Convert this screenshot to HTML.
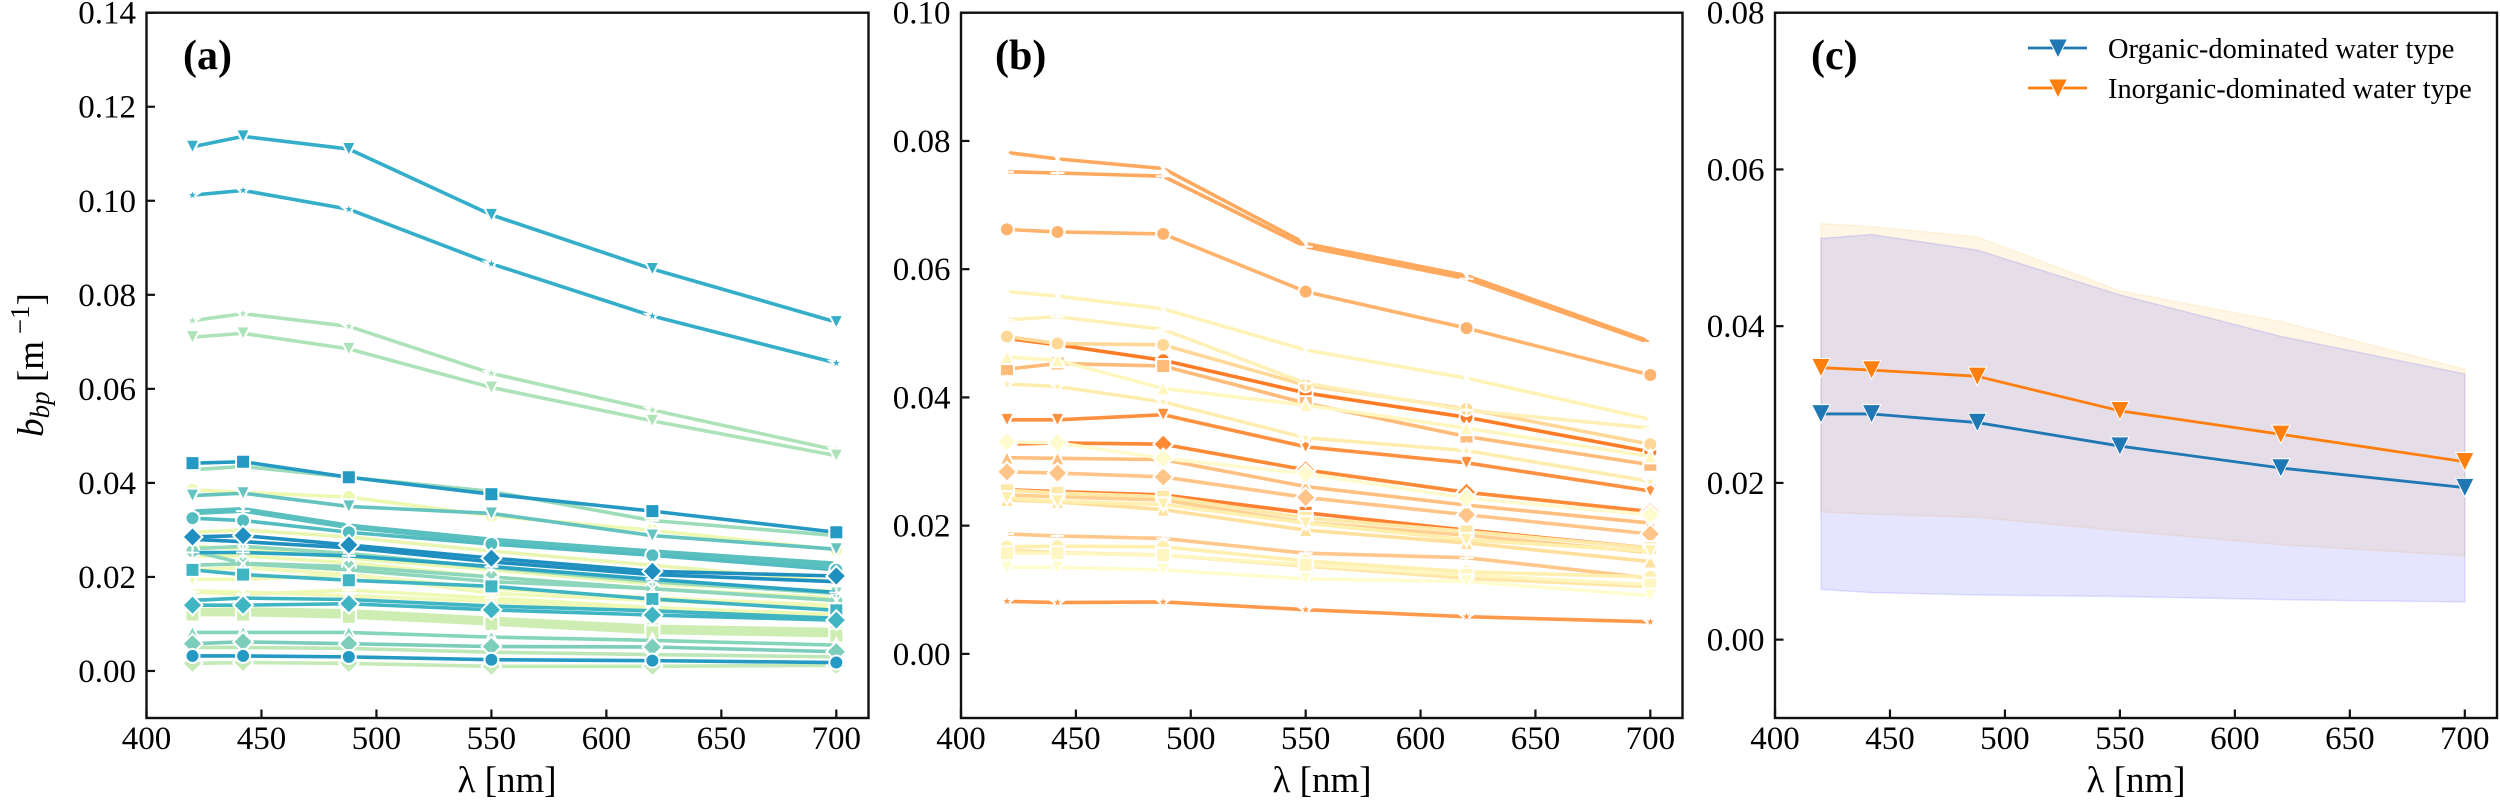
<!DOCTYPE html>
<html lang="en">
<head>
<meta charset="utf-8">
<title>Particulate backscattering spectra</title>
<style>
html,body{margin:0;padding:0;background:#fff;}
svg{display:block;font-family:"Liberation Serif",serif;}
</style>
</head>
<body>
<svg id="figure" xmlns="http://www.w3.org/2000/svg" width="2500" height="802" viewBox="0 0 2500 802">
<rect x="0" y="0" width="2500" height="802" fill="#fff"/>
<g id="layer-a"></g>
<g id="layer-b"></g>
<g id="layer-c"></g>
<text x="183" y="69" font-size="42" font-weight="bold">(a)</text>
<text x="995" y="69" font-size="42" font-weight="bold">(b)</text>
<text x="1811" y="69" font-size="42" font-weight="bold">(c)</text>
<text x="507" y="792" font-size="37" text-anchor="middle">λ [nm]</text>
<text x="1322" y="792" font-size="37" text-anchor="middle">λ [nm]</text>
<text x="2136" y="792" font-size="37" text-anchor="middle">λ [nm]</text>
<text transform="translate(43,365) rotate(-90)" font-size="37" text-anchor="middle"><tspan font-style="italic">b</tspan><tspan font-style="italic" font-size="27" dy="6">bp</tspan><tspan dy="-6"> [m</tspan><tspan font-size="27" dy="-14"> −1</tspan><tspan dy="14">]</tspan></text>
<g>
<g>
<line x1="2028" x2="2087" y1="48" y2="48" stroke="#1f77b4" stroke-width="2.8"/>
<polygon points="2048.5,39 2067.5,39 2058,58" fill="#1f77b4" stroke="#fff" stroke-width="1"/>
<text x="2108" y="58" font-size="28.4">Organic-dominated water type</text>
</g>
<g>
<line x1="2028" x2="2087" y1="88" y2="88" stroke="#ff7f0e" stroke-width="2.8"/>
<polygon points="2048.5,79 2067.5,79 2058,98" fill="#ff7f0e" stroke="#fff" stroke-width="1"/>
<text x="2108" y="98" font-size="28.4">Inorganic-dominated water type</text>
</g>
</g>
</svg>
<script>
const wavelengths = [420, 442, 488, 550, 620, 700];
const xTicks = [400, 450, 500, 550, 600, 650, 700];
const yTicksA = [0, 0.02, 0.04, 0.06, 0.08, 0.10, 0.12, 0.14];
const yTicksB = [0, 0.02, 0.04, 0.06, 0.08, 0.10];
const yTicksC = [0, 0.02, 0.04, 0.06, 0.08];

const valuesA = [
  [0.0385, 0.0380, 0.0370, 0.0330, 0.0299, 0.0258],
  [0.0295, 0.0300, 0.0285, 0.0255, 0.0225, 0.0190],
  [0.0265, 0.0260, 0.0240, 0.0215, 0.0185, 0.0170],
  [0.0245, 0.0245, 0.0230, 0.0200, 0.0175, 0.0155],
  [0.0215, 0.0220, 0.0205, 0.0175, 0.0155, 0.0140],
  [0.0195, 0.0195, 0.0205, 0.0165, 0.0150, 0.0135],
  [0.0170, 0.0168, 0.0160, 0.0148, 0.0130, 0.0115],
  [0.0168, 0.0163, 0.0172, 0.0155, 0.0135, 0.0120],
  [0.0130, 0.0132, 0.0128, 0.0112, 0.0095, 0.0088],
  [0.0125, 0.0126, 0.0122, 0.0106, 0.0089, 0.0082],
  [0.0120, 0.0120, 0.0115, 0.0100, 0.0082, 0.0075],
  [0.0016, 0.0018, 0.0016, 0.0010, 0.0010, 0.0012],
  [0.0050, 0.0050, 0.0048, 0.0040, 0.0035, 0.0030],
  [0.0745, 0.0760, 0.0733, 0.0633, 0.0555, 0.0470],
  [0.0710, 0.0718, 0.0685, 0.0603, 0.0532, 0.0458],
  [0.0428, 0.0435, 0.0412, 0.0382, 0.0320, 0.0288],
  [0.0260, 0.0265, 0.0250, 0.0220, 0.0190, 0.0165],
  [0.0255, 0.0229, 0.0222, 0.0200, 0.0175, 0.0150],
  [0.0225, 0.0228, 0.0215, 0.0190, 0.0175, 0.0150],
  [0.0082, 0.0082, 0.0082, 0.0072, 0.0065, 0.0055],
  [0.0058, 0.0062, 0.0058, 0.0052, 0.0051, 0.0041],
  [0.0373, 0.0378, 0.0350, 0.0335, 0.0288, 0.0259],
  [0.0340, 0.0345, 0.0310, 0.0280, 0.0255, 0.0229],
  [0.0335, 0.0340, 0.0305, 0.0275, 0.0250, 0.0222],
  [0.0325, 0.0320, 0.0295, 0.0270, 0.0246, 0.0215],
  [0.0150, 0.0155, 0.0152, 0.0138, 0.0128, 0.0112],
  [0.0215, 0.0205, 0.0193, 0.0180, 0.0153, 0.0129],
  [0.0140, 0.0140, 0.0143, 0.0130, 0.0119, 0.0108],
  [0.1115, 0.1137, 0.1110, 0.0970, 0.0855, 0.0742],
  [0.1012, 0.1022, 0.0982, 0.0866, 0.0755, 0.0655],
  [0.0252, 0.0252, 0.0245, 0.0222, 0.0195, 0.0167],
  [0.0442, 0.0445, 0.0412, 0.0376, 0.0340, 0.0295],
  [0.0032, 0.0032, 0.0030, 0.0024, 0.0022, 0.0018],
  [0.0280, 0.0275, 0.0262, 0.0232, 0.0205, 0.0190],
  [0.0285, 0.0288, 0.0268, 0.0240, 0.0212, 0.0202]
];
const markersA = ['o','x','v','x','+','v','x','+','s','s','s','D','*','*','v','+','v','o','x','^','D','v','x','+','o','x','s','D','v','*','+','s','o','x','D'];
const colorsA = ['#edf8b1','#e8f6b1','#e9f7b1','#edf8b1','#f1f9b8','#f1f9b8','#f1f9b8','#eff9b6','#cdedb3','#cdedb3','#cdedb3','#c5eab8','#bde7b7','#aee3b9','#aee3b9','#9cdcb9','#95d8ba','#8ed6bb','#8ed6bb','#85d5bb','#7ccdb9','#65c3bf','#5ac0bf','#5ac0bf','#52bcc0','#3fb4c3','#3fb4c3','#3fb4c3','#35afc9','#35afc9','#2ba3c3','#2399c3','#2399c3','#1f8fc0','#1f8fc0'];

const valuesB = [
  [0.0782, 0.0772, 0.0757, 0.0640, 0.0590, 0.0487],
  [0.0752, 0.0750, 0.0745, 0.0635, 0.0585, 0.0485],
  [0.0662, 0.0658, 0.0655, 0.0565, 0.0508, 0.0435],
  [0.0492, 0.0482, 0.0458, 0.0407, 0.0369, 0.0315],
  [0.0327, 0.0329, 0.0327, 0.0287, 0.0252, 0.0222],
  [0.0256, 0.0253, 0.0248, 0.0220, 0.0193, 0.0165],
  [0.0365, 0.0365, 0.0373, 0.0323, 0.0298, 0.0254],
  [0.0082, 0.0080, 0.0081, 0.0069, 0.0058, 0.0050],
  [0.0444, 0.0453, 0.0449, 0.0391, 0.0339, 0.0295],
  [0.0306, 0.0305, 0.0303, 0.0261, 0.0232, 0.0204],
  [0.0284, 0.0282, 0.0276, 0.0244, 0.0217, 0.0187],
  [0.0187, 0.0184, 0.0180, 0.0157, 0.0150, 0.0118],
  [0.0495, 0.0484, 0.0482, 0.0419, 0.0382, 0.0327],
  [0.0248, 0.0245, 0.0240, 0.0205, 0.0185, 0.0158],
  [0.0240, 0.0237, 0.0225, 0.0193, 0.0173, 0.0144],
  [0.0162, 0.0158, 0.0154, 0.0137, 0.0118, 0.0105],
  [0.0255, 0.0251, 0.0245, 0.0212, 0.0191, 0.0165],
  [0.0167, 0.0168, 0.0167, 0.0145, 0.0128, 0.0120],
  [0.0421, 0.0417, 0.0393, 0.0337, 0.0317, 0.0269],
  [0.0243, 0.0238, 0.0233, 0.0204, 0.0178, 0.0160],
  [0.0521, 0.0526, 0.0506, 0.0422, 0.0380, 0.0352],
  [0.0565, 0.0558, 0.0538, 0.0474, 0.0430, 0.0366],
  [0.0463, 0.0458, 0.0414, 0.0388, 0.0352, 0.0308],
  [0.0157, 0.0157, 0.0154, 0.0139, 0.0123, 0.0108],
  [0.0135, 0.0135, 0.0131, 0.0117, 0.0113, 0.0091],
  [0.0331, 0.0329, 0.0305, 0.0281, 0.0243, 0.0217]
];
const markersB = ['x','+','o','o','D','s','v','*','s','^','D','+','o','x','^','x','s','o','*','v','+','x','^','s','v','D'];
const colorsB = ['#ffa95e','#ffa95e','#ffb36c','#ff7b25','#ff8a35','#ff8030','#ff9040','#ff9a4d','#ffbb7a','#ffbf80','#ffc488','#ffc78a','#ffd898','#ffd090','#ffdf9c','#ffe6a5','#ffe9a8','#fff0b0','#ffedb0','#fff0b0','#fff0b8','#fff3b8','#fff6c0','#fff6c2','#fffccf','#fffbcf'];

const organicMean = [0.0288, 0.0288, 0.0277, 0.0247, 0.0219, 0.0194];
const inorganicMean = [0.0347, 0.0344, 0.0336, 0.0292, 0.0262, 0.0227];
const organicUpper = [0.0512, 0.0517, 0.0497, 0.0440, 0.0387, 0.0339];
const organicLower = [0.0064, 0.0060, 0.0057, 0.0055, 0.0051, 0.0048];
const inorganicUpper = [0.0531, 0.0527, 0.0514, 0.0445, 0.0406, 0.0345];
const inorganicLower = [0.0163, 0.0160, 0.0156, 0.0139, 0.0121, 0.0107];

const NS = 'http://www.w3.org/2000/svg';
const panelTop = 12.7, panelBottom = 718, xMin = 400, xMax = 714, tickLen = 8.5;
const panelA = {id: 'a', left: 146.5, right: 868.5, yMin: -0.01, yMax: 0.14, yTicks: yTicksA};
const panelB = {id: 'b', left: 961, right: 1682.5, yMin: -0.01, yMax: 0.10, yTicks: yTicksB};
const panelC = {id: 'c', left: 1775, right: 2497, yMin: -0.01, yMax: 0.08, yTicks: yTicksC};

function xScale(p, v) { return p.left + (v - xMin) / (xMax - xMin) * (p.right - p.left); }
function yScale(p, v) { return panelBottom - (v - p.yMin) / (p.yMax - p.yMin) * (panelBottom - panelTop); }

function make(tag, attrs, parent) {
  const el = document.createElementNS(NS, tag);
  for (const k in attrs) el.setAttribute(k, attrs[k]);
  parent.appendChild(el);
  return el;
}

function markerShape(kind, x, y, ms, color, edge, parent) {
  const r = ms / 2;
  let el;
  if (kind === 'o') {
    el = make('circle', {cx: x, cy: y, r: r, fill: color, stroke: '#fff', 'stroke-width': edge}, parent);
  } else if (kind === 's') {
    el = make('rect', {x: x - r, y: y - r, width: ms, height: ms, fill: color, stroke: '#fff', 'stroke-width': edge}, parent);
  } else if (kind === 'D') {
    const d = r * 1.414;
    el = make('polygon', {points: [x, y - d, x + d, y, x, y + d, x - d, y].join(','), fill: color, stroke: '#fff', 'stroke-width': edge}, parent);
  } else if (kind === 'v') {
    el = make('polygon', {points: [x - r, y - r, x + r, y - r, x, y + r].join(','), fill: color, stroke: '#fff', 'stroke-width': edge, 'stroke-miterlimit': 10}, parent);
  } else if (kind === '^') {
    el = make('polygon', {points: [x - r, y + r, x + r, y + r, x, y - r].join(','), fill: color, stroke: '#fff', 'stroke-width': edge, 'stroke-miterlimit': 10}, parent);
  } else if (kind === '*') {
    const pts = [];
    for (let i = 0; i < 10; i++) {
      const rad = i % 2 === 0 ? r : r * 0.382;
      const a = -Math.PI / 2 + i * Math.PI / 5;
      pts.push(x + rad * Math.cos(a), y + rad * Math.sin(a));
    }
    el = make('polygon', {points: pts.join(','), fill: color, stroke: '#fff', 'stroke-width': edge, 'stroke-miterlimit': 10}, parent);
  } else if (kind === '+') {
    el = make('path', {d: 'M' + (x - r) + ' ' + y + 'H' + (x + r) + 'M' + x + ' ' + (y - r) + 'V' + (y + r), fill: 'none', stroke: '#fff', 'stroke-width': edge}, parent);
  } else {
    const q = r * 0.8;
    el = make('path', {d: 'M' + (x - q) + ' ' + (y - q) + 'L' + (x + q) + ' ' + (y + q) + 'M' + (x - q) + ' ' + (y + q) + 'L' + (x + q) + ' ' + (y - q), fill: 'none', stroke: '#fff', 'stroke-width': edge}, parent);
  }
  return el;
}

function drawSeries(p, index, values, kind, color, lineWidth, ms, edge, parent) {
  const g = make('g', {}, parent);
  
  
  const pts = values.map(function (v, i) { return xScale(p, wavelengths[i]) + ',' + yScale(p, v); }).join(' ');
  const line = make('polyline', {points: pts, fill: 'none', stroke: color, 'stroke-width': lineWidth, 'stroke-linejoin': 'round'}, g);
  
  
  values.forEach(function (v, i) {
    const m = markerShape(kind, xScale(p, wavelengths[i]), yScale(p, v), ms, color, edge, g);
    
    
  });
}

function drawBand(p, upper, lower, color, name, parent) {
  const top = upper.map(function (v, i) { return xScale(p, wavelengths[i]) + ',' + yScale(p, v); });
  const bottom = lower.map(function (v, i) { return xScale(p, wavelengths[i]) + ',' + yScale(p, v); }).reverse();
  const band = make('polygon', {points: top.concat(bottom).join(' '), fill: color, 'fill-opacity': 0.1, stroke: color, 'stroke-opacity': 0.1, 'stroke-width': 1.5}, parent);
  
  
}

function drawAxes(p, parent) {
  const frame = make('rect', {x: p.left, y: panelTop, width: p.right - p.left, height: panelBottom - panelTop, fill: 'none', stroke: '#111', 'stroke-width': 2.4}, parent);
  
  
  xTicks.forEach(function (t) {
    const x = xScale(p, t);
    const mark = make('line', {x1: x, x2: x, y1: panelBottom, y2: panelBottom - tickLen, stroke: '#111', 'stroke-width': 2.2}, parent);
    
    
    const label = make('text', {x: x, y: 749, 'font-size': 33, 'text-anchor': 'middle'}, parent);
    label.textContent = String(t);
    
    
  });
  p.yTicks.forEach(function (t) {
    const y = yScale(p, t);
    const mark = make('line', {x1: p.left, x2: p.left + tickLen, y1: y, y2: y, stroke: '#111', 'stroke-width': 2.2}, parent);
    
    
    const label = make('text', {x: p.left - 10.5, y: y + 11, 'font-size': 33, 'text-anchor': 'end'}, parent);
    label.textContent = t.toFixed(2);
    
    
  });
}

const layerA = document.getElementById('layer-a');
valuesA.forEach(function (vals, i) {
  drawSeries(panelA, i, vals, markersA[i], colorsA[i], 3.6, 14, 2, layerA);
});
drawAxes(panelA, layerA);

const layerB = document.getElementById('layer-b');
valuesB.forEach(function (vals, i) {
  drawSeries(panelB, i, vals, markersB[i], colorsB[i], 3.6, 14, 2, layerB);
});
drawAxes(panelB, layerB);

const layerC = document.getElementById('layer-c');
drawBand(panelC, inorganicUpper, inorganicLower, '#ffa500', 'inorganic-range-band', layerC);
drawBand(panelC, organicUpper, organicLower, '#0000ff', 'organic-range-band', layerC);
drawSeries(panelC, 0, organicMean, 'v', '#1f77b4', 2.8, 18.5, 1, layerC);
drawSeries(panelC, 1, inorganicMean, 'v', '#ff7f0e', 2.8, 18.5, 1, layerC);
drawAxes(panelC, layerC);
</script>
</body>
</html>
